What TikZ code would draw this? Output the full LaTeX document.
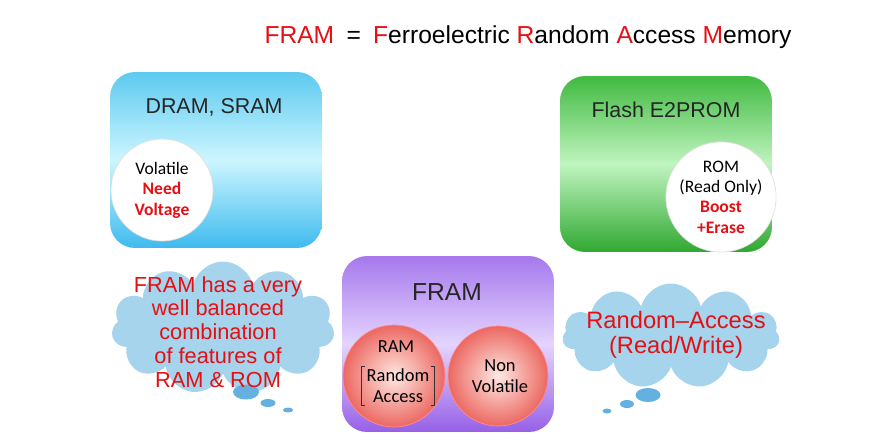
\documentclass[tikz,border=0pt]{standalone}
\usepackage{fontspec}
\setmainfont{Liberation Sans}
\newfontfamily\calibri{Carlito}
\usetikzlibrary{shapes.symbols,shapes.geometric}

\definecolor{framred}{RGB}{228,16,20}
\definecolor{cloudblue}{RGB}{166,212,236}
\definecolor{bubbleblue}{RGB}{100,176,224}

\tikzset{
  membox/.style={rectangle, rounded corners=0.5cm, minimum width=4.24cm, minimum height=3.52cm, inner sep=0pt},
  boxtitle/.style={text=black!85, font=\fontsize{12.2}{14}\selectfont},
  spot/.style={circle, fill=white, draw=black!12, inner sep=0pt, align=center,
    font=\calibri\fontsize{10}{11.6}\selectfont},
  redspot/.style={circle, draw=red!45!white, shading=radial, inner color={rgb,255:red,255;green,232;blue,226},
    outer color={rgb,255:red,236;green,104;blue,98}, minimum size=2.04cm, inner sep=0pt},
  spottext/.style={align=center, inner sep=0pt, font=\calibri\fontsize{10.5}{12}\selectfont},
  thought/.style={cloud, cloud puffs=11, cloud ignores aspect, fill=cloudblue, inner sep=0pt},
  note/.style={align=center, text=framred},
  bubble/.style={ellipse, fill=bubbleblue, inner sep=0pt}
}
\newcommand{\hot}[1]{\textcolor{framred}{\bfseries #1}}

\begin{document}
\begin{tikzpicture}[x=0.02cm, y=-0.02cm]
  \useasboundingbox (0,0) rectangle (886,441);

  % heading
  \node[font=\fontsize{14}{16}\selectfont] (head) at (528,37)
    {\textcolor{framred}{FRAM}\enspace=\enspace\textcolor{framred}{F}erroelectric \textcolor{framred}{R}andom \textcolor{framred}{A}ccess \textcolor{framred}{M}emory};

  % the three memory boxes
  \node[membox, top color={rgb,255:red,92;green,202;blue,240}, bottom color={rgb,255:red,62;green,186;blue,238},
        middle color={rgb,255:red,205;green,246;blue,255}] (dram) at (216,160) {};
  \node[membox, top color={rgb,255:red,64;green,186;blue,64}, bottom color={rgb,255:red,48;green,168;blue,48},
        middle color={rgb,255:red,192;green,244;blue,192}] (flash) at (666,164) {};
  \node[membox, top color={rgb,255:red,166;green,120;blue,236}, bottom color={rgb,255:red,150;green,96;blue,230},
        middle color={rgb,255:red,228;green,212;blue,255}] (fram) at (448,344) {};

  \node[boxtitle] (dramtitle) at (214,107) {DRAM, SRAM};
  \node[boxtitle] (flashtitle) at (666,110) {Flash E2PROM};
  \node[boxtitle, font=\fontsize{14}{16}\selectfont] (framtitle) at (447,292) {FRAM};

  % white spots
  \node[spot, minimum size=2.04cm] (volatile) at (162,190) {Volatile\\\hot{Need}\\\hot{Voltage}};
  \node[spot, minimum size=1.94cm] (rom) at (721,197) {ROM\\(Read Only)\\\hot{Boost}\\\hot{+Erase}};

  % red spots inside FRAM
  \node[redspot] (ram) at (394,376) {};
  \node[redspot, minimum size=2.0cm] (nonvol) at (498,376) {};
  \node[spottext] (ramtxt) at (396,347) {RAM};
  \node[spottext, inner xsep=2.5pt, inner ysep=1pt] (ratxt) at (398,386) {Random\\Access};
  \draw[black!80, semithick] ([xshift=2pt]ratxt.north west) -| (ratxt.south west) -- ++(2pt,0);
  \draw[black!80, semithick] ([xshift=-2pt]ratxt.north east) -| (ratxt.south east) -- ++(-2pt,0);
  \node[spottext] (nvtxt) at (500,376) {Non\\Volatile};

  % thought clouds
  \node[thought, minimum width=4.46cm, minimum height=2.66cm] (lcloud) at (223,328) {};
  \node[thought, minimum width=4.34cm, minimum height=2.1cm] (rcloud) at (671,336) {};
  \foreach \n/\x/\y/\w/\h in {1/246/392/26/15, 2/268/403/15/8, 3/288/410/10/5}
    \node[bubble, minimum width=\w*0.02cm, minimum height=\h*0.02cm] (lb\n) at (\x,\y) {};
  \foreach \n/\x/\y/\w/\h in {1/648/395/25/14, 2/627/404/14/8, 3/607/411/9/5}
    \node[bubble, minimum width=\w*0.02cm, minimum height=\h*0.02cm] (rb\n) at (\x,\y) {};

  \node[note, font=\fontsize{12.4}{13.6}\selectfont] (lnote) at (218,332)
    {FRAM has a very\\well balanced\\combination\\of features of\\RAM \& ROM};
  \node[note, font=\fontsize{13.5}{14.2}\selectfont] (rnote) at (676,335)
    {Random\textendash Access\\(Read/Write)};
\end{tikzpicture}
\end{document}
